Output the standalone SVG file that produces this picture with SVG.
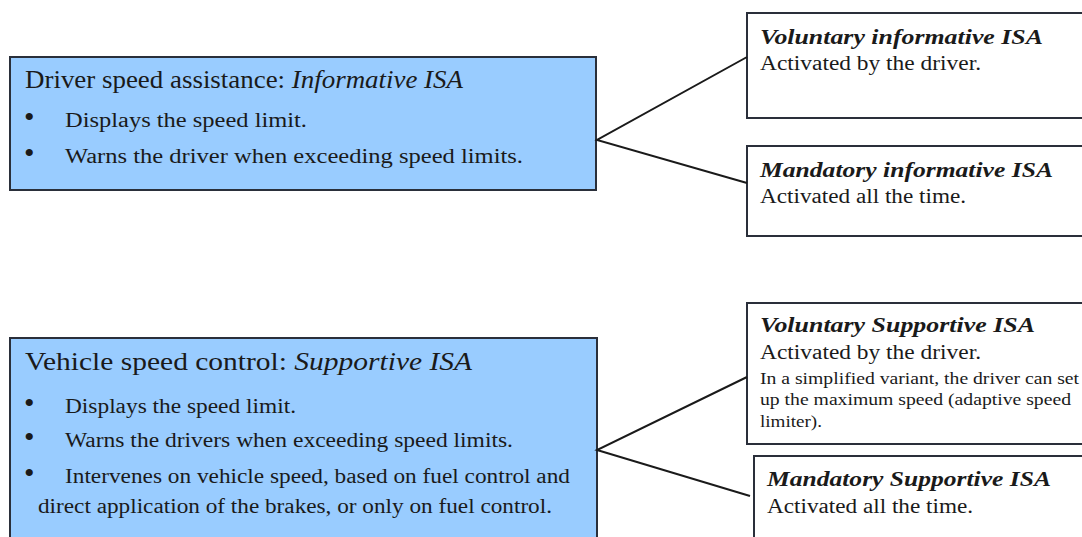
<svg xmlns="http://www.w3.org/2000/svg" width="1082" height="537" viewBox="0 0 1082 537">
<style>
.main{fill:#99ccff;stroke:#2a2f3a;stroke-width:2}
.sub{fill:#ffffff;stroke:#2a2f3a;stroke-width:2}
.t{font-family:"Liberation Serif","Times New Roman",serif;fill:#1a1a1a}
.b{font-size:20px}
.dot{font-size:30px}
.st{font-size:22px;font-weight:bold;font-style:italic}
.sb{font-size:20px}
.sm{font-size:16px}
.c{stroke:#1a1a1a;stroke-width:2;fill:none}
</style>
<rect width="1082" height="537" fill="#ffffff"/>
<g id="informative">
<rect class="main" x="10" y="57" width="586" height="133"/>
<text class="t" font-size="25" x="25" y="88" textLength="438" lengthAdjust="spacingAndGlyphs">Driver speed assistance: <tspan font-style="italic">Informative ISA</tspan></text>
<text class="t dot" x="24" y="127">•</text>
<text class="t b" x="65" y="127" textLength="242" lengthAdjust="spacingAndGlyphs">Displays the speed limit.</text>
<text class="t dot" x="24" y="163">•</text>
<text class="t b" x="65" y="163" textLength="458" lengthAdjust="spacingAndGlyphs">Warns the driver when exceeding speed limits.</text>
</g>
<g id="vol-inf">
<rect class="sub" x="747" y="13" width="345" height="105"/>
<text class="t st" x="760" y="44" textLength="283" lengthAdjust="spacingAndGlyphs">Voluntary informative ISA</text>
<text class="t sb" x="760" y="70" textLength="221" lengthAdjust="spacingAndGlyphs">Activated by the driver.</text>
</g>
<g id="man-inf">
<rect class="sub" x="747" y="146" width="345" height="90"/>
<text class="t st" x="760" y="177" textLength="293" lengthAdjust="spacingAndGlyphs">Mandatory informative ISA</text>
<text class="t sb" x="760" y="203" textLength="206" lengthAdjust="spacingAndGlyphs">Activated all the time.</text>
</g>
<g id="supportive">
<rect class="main" x="10" y="338" width="587" height="210"/>
<text class="t" font-size="26" x="25" y="370" textLength="447" lengthAdjust="spacingAndGlyphs">Vehicle speed control: <tspan font-style="italic">Supportive ISA</tspan></text>
<text class="t dot" x="24" y="413">•</text>
<text class="t b" x="65" y="413" textLength="231" lengthAdjust="spacingAndGlyphs">Displays the speed limit.</text>
<text class="t dot" x="24" y="447">•</text>
<text class="t b" x="65" y="447" textLength="448" lengthAdjust="spacingAndGlyphs">Warns the drivers when exceeding speed limits.</text>
<text class="t dot" x="24" y="483">•</text>
<text class="t b" x="65" y="483" textLength="505" lengthAdjust="spacingAndGlyphs">Intervenes on vehicle speed, based on fuel control and</text>
<text class="t b" x="38" y="513" textLength="514" lengthAdjust="spacingAndGlyphs">direct application of the brakes, or only on fuel control.</text>
</g>
<g id="vol-sup">
<rect class="sub" x="747" y="303" width="345" height="141"/>
<text class="t st" x="760" y="332" textLength="275" lengthAdjust="spacingAndGlyphs">Voluntary Supportive ISA</text>
<text class="t sb" x="760" y="359" textLength="221" lengthAdjust="spacingAndGlyphs">Activated by the driver.</text>
<text class="t sm" x="760" y="384" textLength="319" lengthAdjust="spacingAndGlyphs">In a simplified variant, the driver can set</text>
<text class="t sm" x="760" y="405" textLength="311" lengthAdjust="spacingAndGlyphs">up the maximum speed (adaptive speed</text>
<text class="t sm" x="760" y="427" textLength="62" lengthAdjust="spacingAndGlyphs">limiter).</text>
</g>
<g id="man-sup">
<rect class="sub" x="754" y="456" width="345" height="100"/>
<text class="t st" x="767" y="486" textLength="284" lengthAdjust="spacingAndGlyphs">Mandatory Supportive ISA</text>
<text class="t sb" x="767" y="513" textLength="206" lengthAdjust="spacingAndGlyphs">Activated all the time.</text>
</g>
<g id="connectors">
<polyline class="c" points="747,57 597,140 747,183"/>
<polyline class="c" points="747,377 597,450 750,496"/>
</g>
</svg>
